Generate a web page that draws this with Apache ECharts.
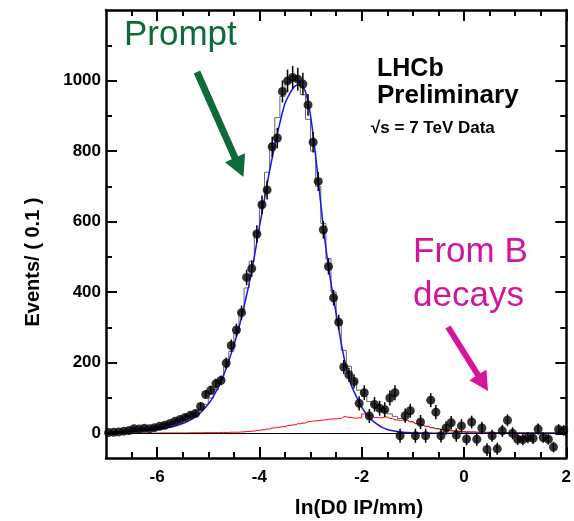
<!DOCTYPE html>
<html>
<head>
<meta charset="utf-8">
<script src="https://cdn.jsdelivr.net/npm/echarts@6/dist/echarts.min.js"></script>
<style>
html,body{margin:0;padding:0;background:#fff;}
#chart{width:574px;height:521px;}
</style>
</head>
<body>
<div id="chart"></div>
<script>
// ---- binning ----
const binLow = -7;
const binWidth = 0.1;

// ---- data points (Events / 0.1), bins from -7 to 2 ----
const dataValues = [
  2, 3, 4, 6, 8, 13, 12, 14, 13, 16,
  20, 23, 28, 34, 39, 45, 51, 56, 76, 110,
  122, 141, 150, 199, 249, 293, 342, 442, 467, 565,
  648, 690, 812, 837, 969, 999, 1009, 1004, 990, 931,
  825, 714, 577, 473, 384, 315, 188, 166, 147, 85,
  115, 49, 82, 71, 67, 100, 115, -7, 50, 64,
  -7, 32, -7, 94, 60, -7, 15, 30, -5, 21,
  -16, 32, -17, 15, -46, -7, -44, 7, 37, 0,
  -17, -18, -12, -14, 12, -12, -17, -39, 11, 8
];
const dataErrors = [
  3, 3, 3, 4, 4, 5, 5, 5, 5, 6,
  6, 7, 7, 8, 8, 9, 9, 10, 11, 12,
  13, 14, 14, 16, 17, 18, 20, 22, 23, 25,
  26, 27, 29, 29, 31, 32, 32, 32, 32, 31,
  29, 27, 25, 23, 22, 21, 20, 20, 20, 20,
  21, 20, 21, 21, 21, 21, 21, 20, 20, 20,
  20, 20, 20, 20, 20, 19, 19, 19, 19, 19,
  18, 18, 18, 18, 18, 17, 17, 17, 17, 17,
  16, 16, 16, 16, 16, 15, 15, 15, 15, 15
];
// total (grey histogram)
const totalHist = [
  2, 3, 4, 5, 6, 8, 9, 11, 13, 15,
  18, 21, 25, 29, 34, 40, 47, 56, 67, 82,
  100, 124, 152, 188, 232, 285, 345, 412, 488, 570,
  655, 740, 822, 895, 955, 995, 1012, 1000, 960, 890,
  800, 700, 595, 495, 400, 320, 235, 190, 150, 122,
  105, 90, 80, 70, 62, 55, 48, 42, 37, 32,
  27, 23, 19, 16, 13, 11, 9, 7, 6, 5,
  4, 4, 3, 3, 3, 2, 2, 2, 2, 1,
  1, 1, 1, 1, 1, 1, 1, 1, 1, 1
];
// from-B component (red histogram)
const fromBHist = [
  0, 0, 0, 0, 0, 0, 0.5, 0.5, 0.5, 0.5,
  1, 1, 1, 1, 1, 1, 1.5, 1.5, 1.5, 2,
  2, 2, 2.5, 2.5, 3, 3, 4, 5, 6, 8,
  10, 12, 15, 17, 19, 22, 24, 27, 29, 33,
  35, 36, 38, 40, 41, 42, 47, 45, 43, 44,
  55, 50, 45, 44, 46, 42, 38, 37, 36, 33,
  28, 24, 20, 16, 13, 11, 9, 7, 6, 5,
  4, 4, 3, 3, 2, 2, 2, 1, 1, 1,
  1, 1, 1, 0.5, 0.5, 0.5, 0.5, 0.5, 0.5, 0.5
];
// prompt fit curve (blue)
const promptX = [-7, -6.8, -6.4, -6.0, -5.8, -5.6, -5.4, -5.2, -5.0,
  -4.9, -4.8, -4.7, -4.6, -4.5, -4.4, -4.3, -4.2, -4.1, -4.0,
  -3.9, -3.8, -3.7, -3.6, -3.5, -3.4, -3.3, -3.2, -3.1, -3.0,
  -2.9, -2.8, -2.7, -2.6, -2.5, -2.4, -2.3, -2.2, -2.1, -2.0,
  -1.9, -1.8, -1.7, -1.6, -1.5, -1.4, -1.2, -1.0, -0.6, 0, 1, 2];
const promptY = [2, 3, 6, 11, 16, 23, 34, 52, 83,
  105, 132, 165, 205, 250, 300, 360, 425, 500, 585,
  665, 745, 815, 880, 935, 965, 985, 988, 968, 900,
  785, 650, 525, 425, 340, 255, 185, 135, 103, 74,
  53, 37, 26, 17, 11, 7, 3, 1.5, 0.3, 0, 0, 0];

// ---- ticks ----
const xMajorTicks = [-6, -4, -2, 0, 2];
const xMinorTicks = [-6.5, -5.5, -5, -4.5, -3.5, -3, -2.5, -1.5, -1, -0.5, 0.5, 1, 1.5];
const yMajorTicks = [0, 200, 400, 600, 800, 1000];
const yMinorTicks = [100, 300, 500, 700, 900, 1100];

const xMin = -7, xMax = 2, yMin = -70, yMax = 1200;

const centers = dataValues.map((_, i) => +(binLow + binWidth * (i + 0.5)).toFixed(2));
const pts = dataValues.map((v, i) => [centers[i], v]);
const errPts = dataValues.map((v, i) => [centers[i], v, dataErrors[i]]);
const totalPts = totalHist.map((v, i) => [centers[i], v]);
const fromBPts = fromBHist.map((v, i) => [centers[i], v]);
const promptPts = promptX.map((x, i) => [x, promptY[i]]);

const FONT = '"Liberation Sans", Arial, Helvetica, sans-serif';

function xAx(position, ticks, len, main, labels) {
  return {
    type: 'value', position: position, min: xMin, max: xMax,
    axisLine: { show: main, onZero: false, lineStyle: { color: '#000', width: 2.5 } },
    axisTick: { show: true, inside: true, length: len, customValues: ticks, lineStyle: { color: '#000', width: 2 } },
    axisLabel: labels ? { show: true, customValues: ticks, formatter: v => String(v), color: '#000', fontFamily: FONT, fontWeight: 'bold', fontSize: 17, margin: 11 } : { show: false },
    splitLine: { show: false }
  };
}
function yAx(position, ticks, len, main, labels) {
  return {
    type: 'value', position: position, min: yMin, max: yMax,
    axisLine: { show: main, onZero: false, lineStyle: { color: '#000', width: 2.5 } },
    axisTick: { show: true, inside: true, length: len, customValues: ticks, lineStyle: { color: '#000', width: 2 } },
    axisLabel: labels ? { show: true, customValues: ticks, formatter: v => String(v), color: '#000', fontFamily: FONT, fontWeight: 'bold', fontSize: 17, margin: 5 } : { show: false },
    splitLine: { show: false }
  };
}

function arrow(x0, y0, x1, y1, headLen, headHalf, width, color) {
  const dx = x1 - x0, dy = y1 - y0, L = Math.hypot(dx, dy);
  const ux = dx / L, uy = dy / L, nx = -uy, ny = ux;
  const bx = x1 - headLen * ux, by = y1 - headLen * uy;
  return [
    { type: 'line', shape: { x1: x0, y1: y0, x2: bx + ux * 2, y2: by + uy * 2 }, style: { stroke: color, lineWidth: width }, z: 100 },
    { type: 'polygon', shape: { points: [[x1, y1], [bx + headHalf * nx, by + headHalf * ny], [bx - headHalf * nx, by - headHalf * ny]] }, style: { fill: color }, z: 100 }
  ];
}

function label(text, x, y, font, color) {
  return { type: 'text', x: x, y: y, z: 100, style: { text: text, font: font, fill: color, align: 'left', verticalAlign: 'top' } };
}

const chart = echarts.init(document.getElementById('chart'), null, { renderer: 'canvas' });
const option = {
  animation: false,
  backgroundColor: '#fff',
  grid: { left: 106, top: 10, right: 2, bottom: 63, containLabel: false },
  xAxis: [
    xAx('bottom', xMajorTicks, 11, true, true),
    xAx('bottom', xMinorTicks, 6, false, false),
    xAx('top', xMajorTicks, 11, true, false),
    xAx('top', xMinorTicks, 6, false, false)
  ],
  yAxis: [
    yAx('left', yMajorTicks, 11, true, true),
    yAx('left', yMinorTicks, 6, false, false),
    yAx('right', yMajorTicks, 11, true, false),
    yAx('right', yMinorTicks, 6, false, false)
  ],
  series: [
    {
      name: 'Total', type: 'line', step: 'middle', data: totalPts, symbol: 'none',
      lineStyle: { color: '#666', width: 1 }, z: 2,
      markLine: {
        silent: true, symbol: 'none', label: { show: false },
        lineStyle: { color: '#000', width: 1, type: 'solid' },
        data: [{ yAxis: 0 }]
      }
    },
    {
      name: 'From B', type: 'line', step: 'middle', data: fromBPts, symbol: 'none',
      lineStyle: { color: '#ff0000', width: 1 }, z: 3
    },
    {
      name: 'Prompt', type: 'line', smooth: 0.3, data: promptPts, symbol: 'none',
      lineStyle: { color: '#1515f0', width: 1.5 }, z: 4
    },
    {
      name: 'Errors', type: 'custom', data: errPts, z: 5,
      renderItem: function (params, api) {
        const x = api.value(0), y = api.value(1), e = api.value(2);
        const p1 = api.coord([x, y - e]), p2 = api.coord([x, y + e]);
        return { type: 'line', shape: { x1: p1[0], y1: p1[1], x2: p2[0], y2: p2[1] }, style: { stroke: '#000', lineWidth: 1.5 } };
      }
    },
    {
      name: 'Data', type: 'scatter', data: pts, symbol: 'circle', symbolSize: 9,
      itemStyle: { color: '#000' }, z: 6
    }
  ],
  graphic: [
    { type: 'text', x: 33, y: 262, rotation: Math.PI / 2, style: { text: 'Events/ ( 0.1 )', font: 'bold 20px ' + FONT, fill: '#000', align: 'center', verticalAlign: 'middle' } },
    { type: 'text', x: 359, y: 508, style: { text: 'ln(D0 IP/mm)', font: 'bold 21px ' + FONT, fill: '#000', align: 'center', verticalAlign: 'middle' } },
    label('Prompt', 124, 18, '35px ' + FONT, '#0d6b3a'),
    label('LHCb', 377, 57, 'bold 25px ' + FONT, '#000'),
    label('Preliminary', 377, 83, 'bold 26px ' + FONT, '#000'),
    label('\u221As = 7 TeV Data', 371, 120, 'bold 17px ' + FONT, '#000'),
    label('From B', 413, 235, '35px ' + FONT, '#d4149a'),
    label('decays', 413, 279, '35px ' + FONT, '#d4149a')
  ].concat(arrow(197, 72, 243.5, 177, 21, 11, 7, '#0d6b3a'))
   .concat(arrow(448, 327, 488, 391, 19, 10, 6, '#d4149a'))
};
chart.setOption(option);
</script>
</body>
</html>
